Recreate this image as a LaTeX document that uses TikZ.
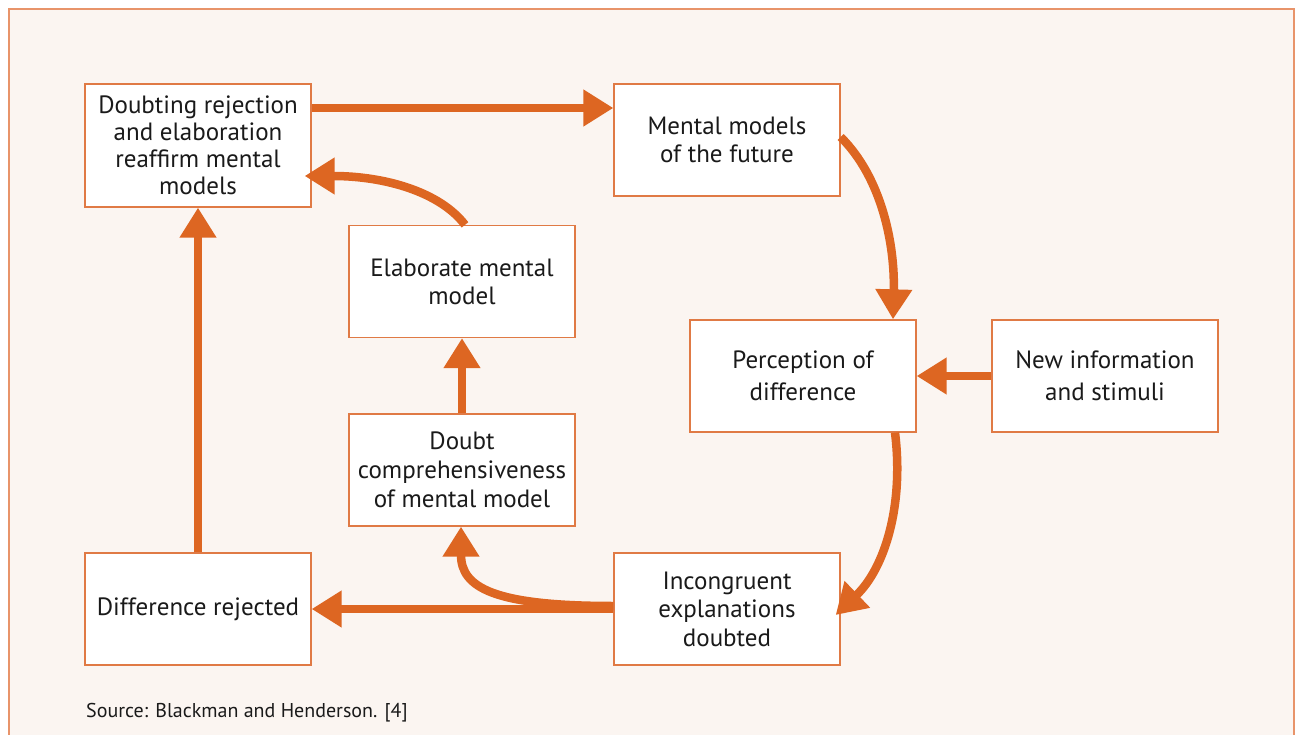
\documentclass[tikz,border=0pt]{standalone}
\usepackage{fontspec}
\newfontfamily\myr{PT Sans}
\usetikzlibrary{arrows.meta}
\definecolor{cream}{HTML}{FBF5F1}
\definecolor{framec}{HTML}{E8946A}
\definecolor{boxc}{HTML}{E07A45}
\definecolor{arrc}{HTML}{DD6622}
\definecolor{txt}{HTML}{1A1A1A}
\tikzset{
  box/.style={draw=boxc, line width=1.3pt, fill=white, rectangle, inner sep=0pt,
    minimum width=226pt, minimum height=112pt, align=center, text=txt,
    font=\myr\fontsize{25}{28}\selectfont},
  arr/.style={draw=arrc, line width=8.5pt, -{Triangle[width=35pt,length=30pt]}},
}
\begin{document}
\begin{tikzpicture}[x=1pt,y=-1pt]
\useasboundingbox (0,0) rectangle (1300,735);
\fill[white] (0,0) rectangle (1300,735);
\draw[draw=framec, fill=cream, line width=2pt] (9,9) rectangle (1294,760);

\node[box, minimum height=123pt, font=\myr\fontsize{25}{27}\selectfont] (A) at (198,145.5) {Doubting rejection\\and elaboration\\reaffirm mental\\models};
\node[box] (B) at (727,140) {Mental models\\of the future};
\node[box] (C) at (462,281.5) {Elaborate mental\\model};
\node[box, font=\myr\fontsize{25}{32}\selectfont] (D) at (803,376) {Perception of\\difference};
\node[box, font=\myr\fontsize{25}{32}\selectfont] (E) at (1105,376) {New information\\and stimuli};
\node[box, font=\myr\fontsize{25}{29}\selectfont] (F) at (462,470) {Doubt\\comprehensiveness\\of mental model};
\node[box] (G) at (198,609) {Difference rejected};
\node[box, font=\myr\fontsize{25}{28.5}\selectfont] (H) at (727,609) {Incongruent\\explanations\\doubted};

\node[anchor=west, text=txt, font=\myr\fontsize{20}{24}\selectfont, inner sep=0pt] (src) at (86,713) {Source: Blackman and Henderson. [4]};

\draw[arr] ([yshift=37.5pt]A.east) -- ([yshift=32pt]B.west);
\draw[arr] ([yshift=3pt]B.east) .. controls (882,178) and (895,245) .. ([xshift=90pt]D.north);
\draw[arr] (E.west) -- (D.east);
\draw[arr] ([xshift=92pt]D.south) .. controls (904,505) and (885,568) .. ([xshift=-5pt,yshift=-6pt]H.east);
\draw[arr] (H.west) -- (G.east);
\draw[arr] ([yshift=3pt]H.west) .. controls (495,606) and (461,588) .. ([xshift=-1pt]F.south);
\draw[arr] (F.north) -- (C.south);
\draw[arr] ([xshift=3pt]C.north) .. controls (440,192) and (385,176) .. ([xshift=-7pt,yshift=-30.5pt]A.east);
\draw[arr] (G.north) -- (A.south);
\end{tikzpicture}
\end{document}
